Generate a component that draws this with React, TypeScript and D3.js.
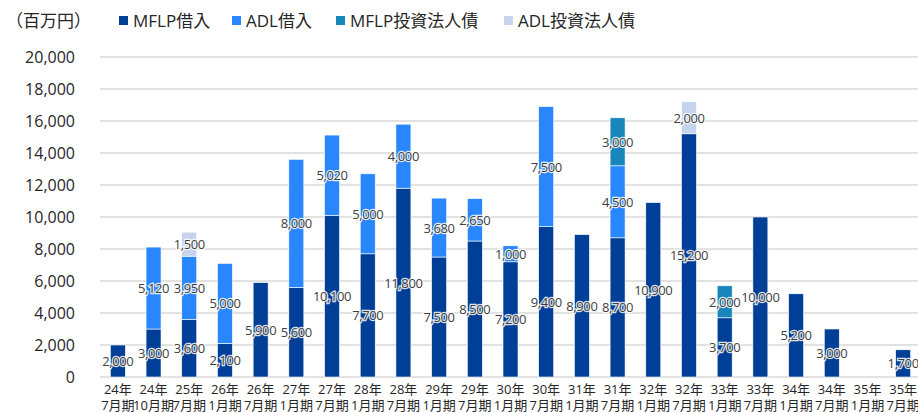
import React from "react";
import * as d3 from "d3";

const categories = [
  ["24年", "7月期"], ["24年", "10月期"], ["25年", "7月期"], ["26年", "1月期"], ["26年", "7月期"],
  ["27年", "1月期"], ["27年", "7月期"], ["28年", "1月期"], ["28年", "7月期"], ["29年", "1月期"],
  ["29年", "7月期"], ["30年", "1月期"], ["30年", "7月期"], ["31年", "1月期"], ["31年", "7月期"],
  ["32年", "1月期"], ["32年", "7月期"], ["33年", "1月期"], ["33年", "7月期"], ["34年", "1月期"],
  ["34年", "7月期"], ["35年", "1月期"], ["35年", "7月期"],
];
const mflpLoan = [2000, 3000, 3600, 2100, 5900, 5600, 10100, 7700, 11800, 7500, 8500, 7200, 9400, 8900, 8700, 10900, 15200, 3700, 10000, 5200, 3000, 0, 1700];
const adlLoan = [0, 5120, 3950, 5000, 0, 8000, 5020, 5000, 4000, 3680, 2650, 1000, 7500, 0, 4500, 0, 0, 0, 0, 0, 0, 0, 0];
const mflpBond = [0, 0, 0, 0, 0, 0, 0, 0, 0, 0, 0, 0, 0, 0, 3000, 0, 0, 2000, 0, 0, 0, 0, 0];
const adlBond = [0, 0, 1500, 0, 0, 0, 0, 0, 0, 0, 0, 0, 0, 0, 0, 0, 2000, 0, 0, 0, 0, 0, 0];
const seriesNames = ["MFLP借入", "ADL借入", "MFLP投資法人債", "ADL投資法人債"];
const seriesColors = ["#003f98", "#2a86fc", "#1787bb", "#c6d3ee"];
const yTicks = [0, 2000, 4000, 6000, 8000, 10000, 12000, 14000, 16000, 18000, 20000];

const W = 918, H = 412;
const FONT = "'Open Sans', 'Noto Sans CJK JP', sans-serif";

export default function App() {
  const series = [mflpLoan, adlLoan, mflpBond, adlBond];
  const x = d3.scaleBand<number>().domain(d3.range(categories.length)).range([100, 921]).paddingInner(0.58).paddingOuter(0.29);
  const y = d3.scaleLinear().domain([0, 20000]).range([377, 57]);
  const fmt = d3.format(",");
  const bars: React.ReactNode[] = [];
  const labels: React.ReactNode[] = [];
  categories.forEach((_, i) => {
    let base = 0;
    series.forEach((s, k) => {
      const v = s[i];
      if (v > 0) {
        const y0 = y(base), y1 = y(base + v);
        bars.push(
          <rect key={`b${i}-${k}`} x={x(i)} y={y1} width={x.bandwidth()} height={y0 - y1}
            fill={seriesColors[k]} stroke="#ffffff" strokeWidth={0.6} />
        );
        labels.push(
          <text key={`l${i}-${k}`} x={x(i)! + x.bandwidth() / 2} y={(y0 + y1) / 2} textAnchor="middle"
            dominantBaseline="central" fontSize={13} fill="#404040" stroke="#ffffff" strokeWidth={2.5}
            strokeOpacity={0.85} paintOrder="stroke" letterSpacing={-0.4}>{fmt(v)}</text>
        );
        base += v;
      }
    });
  });
  const legendX = [119, 232, 336, 504];
  return (
    <svg width={W} height={H} style={{ position: "absolute", left: 0, top: 0, fontFamily: FONT }}>
      <rect width={W} height={H} fill="#ffffff" />
      <text x={6} y={20} fontSize={17} fill="#262626" dominantBaseline="central">（百万円）</text>
      {seriesNames.map((n, k) => (
        <g key={n}>
          <rect x={legendX[k]} y={16} width={9} height={9} fill={seriesColors[k]} />
          <text x={legendX[k] + 14} y={20.5} fontSize={17} fill="#262626" dominantBaseline="central">{n}</text>
        </g>
      ))}
      {yTicks.map((t) => (
        <g key={t}>
          <line x1={100} x2={918} y1={y(t)} y2={y(t)} stroke="#d9d9d9" strokeWidth={1.5} />
          <text x={75} y={y(t)} textAnchor="end" dominantBaseline="central" fontSize={16} fill="#262626">{fmt(t)}</text>
        </g>
      ))}
      {bars}
      {labels}
      {categories.map((c, i) => (
        <text key={`x${i}`} x={x(i)! + x.bandwidth() / 2} textAnchor="middle" fontSize={13} fill="#262626">
          <tspan x={x(i)! + x.bandwidth() / 2} y={394}>{c[0]}</tspan>
          <tspan x={x(i)! + x.bandwidth() / 2} y={410}>{c[1]}</tspan>
        </text>
      ))}
    </svg>
  );
}
